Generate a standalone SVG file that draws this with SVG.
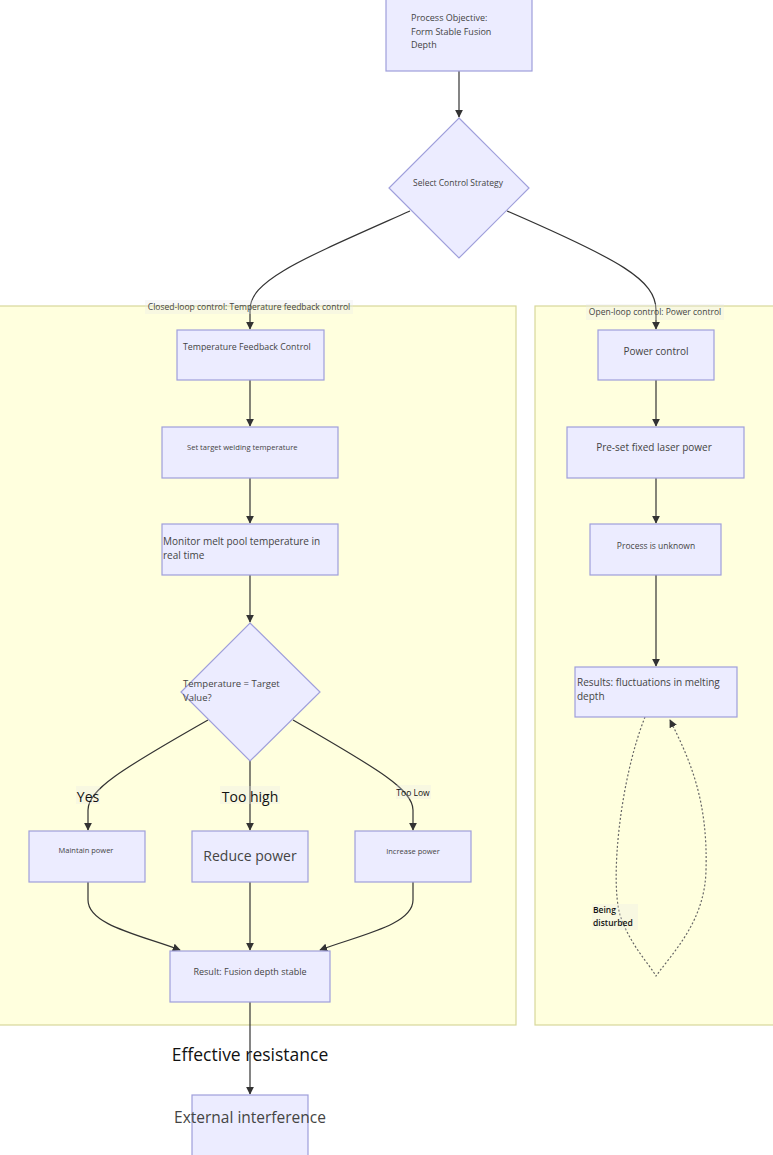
<svg xmlns="http://www.w3.org/2000/svg" width="773" height="1155" viewBox="0 0 773 1155">
<defs>
<style>
.node{fill:#ececff;stroke:#9f9fdb;stroke-width:1.2}
.cluster{fill:#ffffde;stroke:#d8d89a;stroke-width:1.2}
.edge{fill:none;stroke:#333;stroke-width:1.2}
.dot{fill:none;stroke:#666;stroke-width:1.2;stroke-dasharray:2,2}
.t{font-family:"Open Sans","Noto Sans",sans-serif;fill:#444}
.lbl{font-family:"Open Sans","Noto Sans",sans-serif;fill:#111}
.lb{fill:#e8e8e8;opacity:0.3}
</style>
<marker id="arr" viewBox="0 0 10 10" refX="9" refY="5" markerWidth="8" markerHeight="8" orient="auto-start-reverse" markerUnits="userSpaceOnUse">
<path d="M0,0 L10,5 L0,10 z" fill="#333"/>
</marker>
</defs>
<rect width="773" height="1155" fill="#ffffff"/>
<g id="cluster-closed"><rect class="cluster" x="-1" y="306" width="517" height="719"/></g>
<g id="cluster-open"><rect class="cluster" x="535" y="306" width="240" height="719"/></g>

<g id="edges">
<path class="edge" d="M459,71 L459,117" marker-end="url(#arr)"/>
<path class="edge" d="M410,211 C300,260 250,280 250,310 L250,329" marker-end="url(#arr)"/>
<path class="edge" d="M507,211 C620,260 656,280 656,310 L656,329" marker-end="url(#arr)"/>
<path class="edge" d="M250,380 L250,426" marker-end="url(#arr)"/>
<path class="edge" d="M250,478 L250,523" marker-end="url(#arr)"/>
<path class="edge" d="M250,575 L250,622" marker-end="url(#arr)"/>
<path class="edge" d="M208,720 C120,770 88,790 88,810 L88,830" marker-end="url(#arr)"/>
<path class="edge" d="M250,761 L250,830" marker-end="url(#arr)"/>
<path class="edge" d="M293,720 C380,770 413,790 413,810 L413,830" marker-end="url(#arr)"/>
<path class="edge" d="M88,882 L88,900 C88,925 140,935 180,950" marker-end="url(#arr)"/>
<path class="edge" d="M250,882 L250,950" marker-end="url(#arr)"/>
<path class="edge" d="M413,882 L413,900 C413,925 360,935 320,950" marker-end="url(#arr)"/>
<path class="edge" d="M250,1002 L250,1094" marker-end="url(#arr)"/>
<path class="edge" d="M656,380 L656,426" marker-end="url(#arr)"/>
<path class="edge" d="M656,478 L656,523" marker-end="url(#arr)"/>
<path class="edge" d="M656,575 L656,666" marker-end="url(#arr)"/>
<path class="dot" d="M645,717 C620,780 610,880 620,915 C630,945 650,965 656,976 C675,950 705,920 706,870 C708,800 690,760 670,720" marker-end="url(#arr)"/>
</g>

<g id="edge-labels">
<rect class="lb" x="145" y="300" width="208" height="14"/>
<text class="t" x="249" y="310" font-size="8.5" text-anchor="middle">Closed-loop control: Temperature feedback control</text>
<rect class="lb" x="586" y="304" width="138" height="16"/>
<text class="t" x="655" y="315" font-size="8.5" text-anchor="middle">Open-loop control: Power control</text>
<rect class="lb" x="76" y="786" width="24" height="18"/>
<text class="lbl" x="88" y="802" font-size="14" text-anchor="middle">Yes</text>
<rect class="lb" x="220" y="786" width="60" height="18"/>
<text class="lbl" x="250" y="802" font-size="14" text-anchor="middle">Too high</text>
<rect class="lb" x="396" y="785" width="35" height="14"/>
<text class="lbl" x="413" y="796" font-size="8.5" text-anchor="middle">Too Low</text>
<rect class="lb" x="592" y="904" width="46" height="26"/>
<text class="lbl" x="593" y="913" font-size="8.5" font-weight="600">Being</text>
<text class="lbl" x="593" y="926" font-size="8.5" font-weight="600">disturbed</text>
<text class="lbl" x="250" y="1061" font-size="17.5" text-anchor="middle">Effective resistance</text>
</g>

<g id="n-objective">
<rect class="node" x="386" y="-2" width="146" height="73"/>
<text class="t" x="411" y="21" font-size="9">Process Objective:</text>
<text class="t" x="411" y="35" font-size="9">Form Stable Fusion</text>
<text class="t" x="411" y="48" font-size="9">Depth</text>
</g>
<g id="n-select">
<polygon class="node" points="459,118 529,188 459,258 389,188"/>
<text class="t" x="458" y="186" font-size="8.5" text-anchor="middle">Select Control Strategy</text>
</g>
<g id="n-tfc">
<rect class="node" x="177" y="330" width="147" height="50"/>
<text class="t" x="183" y="350" font-size="8.8">Temperature Feedback Control</text>
</g>
<g id="n-set">
<rect class="node" x="162" y="427" width="176" height="51"/>
<text class="t" x="187" y="450" font-size="7.6">Set target welding temperature</text>
</g>
<g id="n-monitor">
<rect class="node" x="162" y="524" width="176" height="51"/>
<text class="t" x="163" y="545" font-size="10">Monitor melt pool temperature in</text>
<text class="t" x="163" y="559" font-size="10">real time</text>
</g>
<g id="n-temp">
<polygon class="node" points="250,623 320,692 250,761 181,692"/>
<text class="t" x="183" y="687" font-size="9.5">Temperature = Target</text>
<text class="t" x="183" y="701" font-size="9.5">Value?</text>
</g>
<g id="n-maintain">
<rect class="node" x="29" y="831" width="116" height="51"/>
<text class="t" x="86" y="853" font-size="7.5" text-anchor="middle">Maintain power</text>
</g>
<g id="n-reduce">
<rect class="node" x="192" y="831" width="116" height="51"/>
<text class="t" x="250" y="861" font-size="14" text-anchor="middle" fill="#555">Reduce power</text>
</g>
<g id="n-increase">
<rect class="node" x="355" y="831" width="116" height="51"/>
<text class="t" x="413" y="854" font-size="7.5" text-anchor="middle">Increase power</text>
</g>
<g id="n-result">
<rect class="node" x="170" y="951" width="160" height="51"/>
<text class="t" x="250" y="975" font-size="9" text-anchor="middle">Result: Fusion depth stable</text>
</g>
<g id="n-external">
<rect class="node" x="192" y="1095" width="116" height="70"/>
<text class="t" x="250" y="1123" font-size="15.5" text-anchor="middle" fill="#666">External interference</text>
</g>
<g id="n-power">
<rect class="node" x="598" y="330" width="116" height="50"/>
<text class="t" x="656" y="355" font-size="10" text-anchor="middle">Power control</text>
</g>
<g id="n-preset">
<rect class="node" x="567" y="427" width="177" height="51"/>
<text class="t" x="654" y="451" font-size="10" text-anchor="middle">Pre-set fixed laser power</text>
</g>
<g id="n-unknown">
<rect class="node" x="590" y="524" width="131" height="51"/>
<text class="t" x="656" y="549" font-size="8.5" text-anchor="middle">Process is unknown</text>
</g>
<g id="n-fluct">
<rect class="node" x="575" y="667" width="162" height="50"/>
<text class="t" x="577" y="686" font-size="10">Results: fluctuations in melting</text>
<text class="t" x="577" y="700" font-size="10">depth</text>
</g>
</svg>
